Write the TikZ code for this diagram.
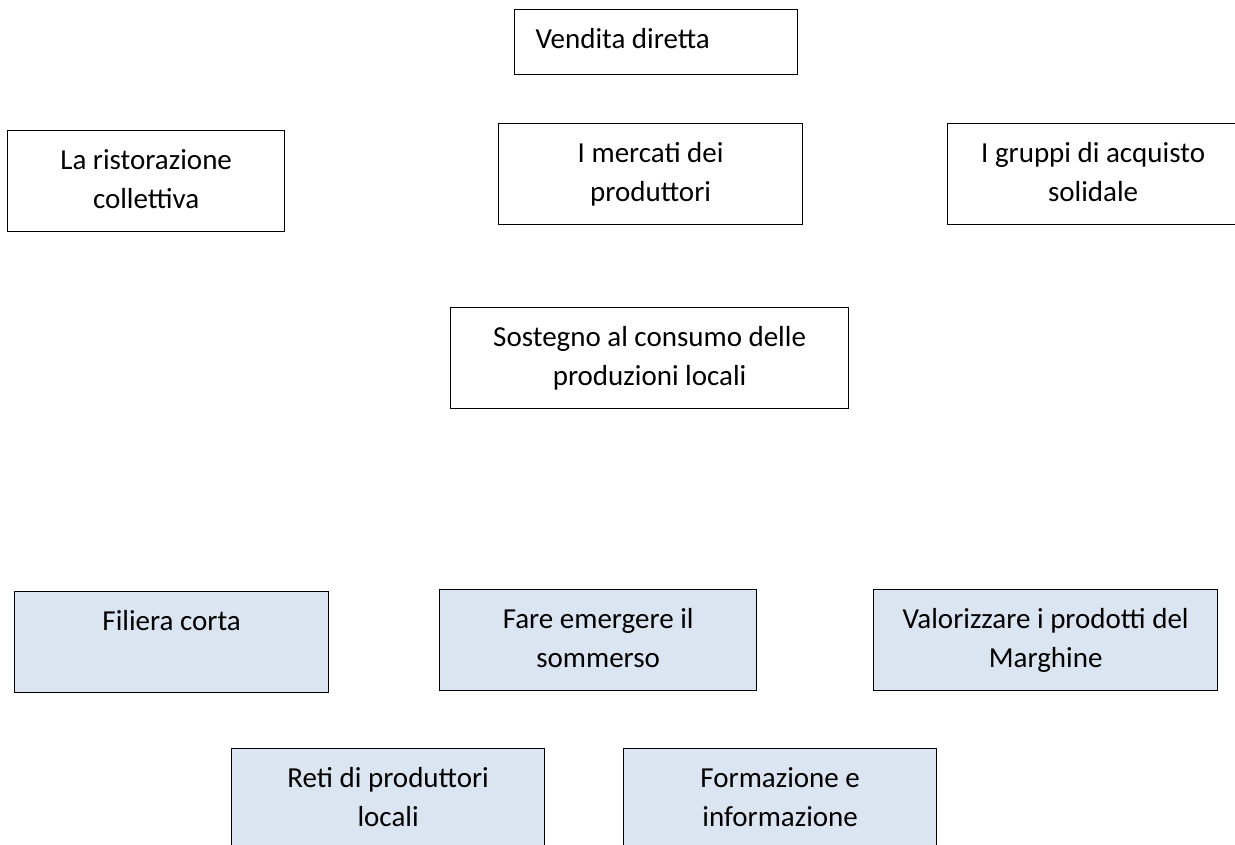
\documentclass[tikz,border=0pt]{standalone}
\usepackage{fontspec}
\setmainfont{Carlito}
\definecolor{boxblue}{HTML}{DBE5F1}
\newcommand\btxt[3]{\parbox[c][#2pt][t]{#1pt}{\centering\rule{0pt}{39pt}#3}}
\newcommand\ltxt[4]{\parbox[c][#2pt][t]{#1pt}{\raggedright\hspace*{#3pt}\rule{0pt}{39pt}#4}}
\tikzset{
  box/.style={draw=black, line width=1.3pt, inner sep=0pt, anchor=north west,
    font=\fontsize{29}{39}\selectfont},
  bluebox/.style={box, fill=boxblue}
}
\begin{document}
\begin{tikzpicture}[x=1pt,y=-1pt]
\useasboundingbox[fill=white] (0,0) rectangle (1235,845);
% top group
\node[box] (vend) at (514,9) {\ltxt{283}{65}{21}{Vendita diretta}};
\node[box] (rist) at (7,130) {\btxt{277}{101}{La ristorazione\\collettiva}};
\node[box] (merc) at (498,123) {\btxt{304}{101}{I mercati dei\\produttori}};
\node[box] (grup) at (947,123) {\btxt{291}{101}{I gruppi di acquisto\\solidale}};
\node[box] (sost) at (450,307) {\btxt{398}{101}{Sostegno al consumo delle\\produzioni locali}};
% bottom group
\node[bluebox] (fili) at (14,591) {\btxt{314}{101}{Filiera corta}};
\node[bluebox] (fare) at (439,589) {\btxt{317}{101}{Fare emergere il\\sommerso}};
\node[bluebox] (valo) at (873,589) {\btxt{344}{101}{Valorizzare i prodotti del\\Marghine}};
\node[bluebox] (reti) at (231,748) {\btxt{313}{101}{Reti di produttori\\locali}};
\node[bluebox] (form) at (623,748) {\btxt{313}{101}{Formazione e\\informazione}};
\end{tikzpicture}
\end{document}
